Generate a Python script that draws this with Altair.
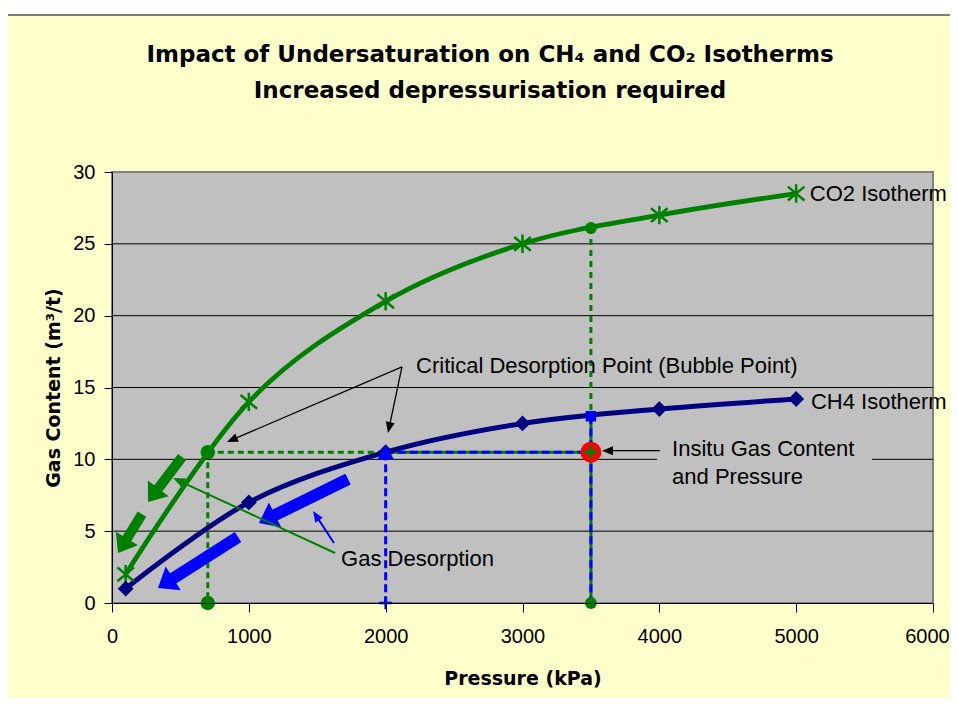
import math
import altair as alt
import pandas as pd

# ---------------- data ----------------
pressure = [100, 1000, 2000, 3000, 4000, 5000]
co2_content = [2, 14, 21, 25, 27, 28.5]
ch4_content = [1, 7, 10.5, 12.5, 13.5, 14.2]

x_ticks = [0, 1000, 2000, 3000, 4000, 5000, 6000]
y_ticks = [0, 5, 10, 15, 20, 25, 30]
grid_levels = [5, 10, 15, 20, 25]

co2_bubble = [700, 10.5]
ch4_bubble = [2000, 10.5]
insitu_point = [3500, 10.5]
co2_at_insitu = [3500, 26.1]
ch4_at_insitu = [3500, 13.0]

title_lines = ["Impact of Undersaturation on CH\u2084 and CO\u2082 Isotherms",
               "Increased depressurisation required"]

label_text = ["CO2 Isotherm", "CH4 Isotherm", "Critical Desorption Point (Bubble Point)",
              "Insitu Gas Content", "and Pressure", "Gas Desorption"]
label_x = [5100, 5108, 2222, 4093, 4093, 1674]
label_y = [28.5, 14.0, 16.5, 10.72, 8.77, 3.06]

# label background box (hides gridline behind the in-situ label)
label_box = [[3983, 9.5, 5554, 10.3]]

# guide lines [x1, y1, x2, y2]
green_dashed = [[700, 10.5, 2000, 10.5], [700, 10.5, 700, 0]]
green_dotted = [[3500, 26.1, 3500, 13.0]]
green_under = [[2000, 10.5, 3500, 10.5], [3500, 13.0, 3500, 0]]
blue_dashed = [[2000, 10.5, 3500, 10.5], [3500, 13.0, 3500, 0], [2000, 10.5, 2000, 0]]

# arrows [x_from, y_from, x_tip, y_tip]
green_arrows = [[512, 10.16, 263, 7.03], [219, 6.19, 44, 3.48]]
blue_arrows = [[1725, 8.63, 1074, 5.57], [921, 4.59, 336, 1.04]]
black_arrows = [[2119, 16.43, 840, 11.21], [2119, 16.43, 2017, 11.83], [4005, 10.6, 3581, 10.6]]
blue_pointer = [[1622, 4.18, 1469, 6.40]]
green_pointer = [[1630, 3.48, 446, 8.70]]

# ---------------- layout ----------------
W, H = 821, 431
XMAX, YMAX = 6000, 30
sx, sy = W / XMAX, H / YMAX

GREEN = "#008000"
NAVY = "#000080"
BLUE = "#0000FF"
RED = "#FF0000"
GRAY = "#C0C0C0"
YELLOW = "#FFFFCC"

xs = alt.Scale(domain=[0, XMAX], nice=False, zero=False)
ys = alt.Scale(domain=[0, YMAX], nice=False, zero=False)

xax = alt.Axis(values=x_ticks, format="d", title="Pressure (kPa)", grid=False,
               domainColor="black", domainWidth=1, tickColor="black", tickSize=9,
               labelFont="Liberation Sans", labelFontSize=20, labelColor="black",
               labelPadding=14, labelFlush=False, labelOverlap=False,
               labelOffset={"condition": {"test": f"datum.value == {XMAX}", "value": -6},
                            "value": 0},
               titleFont="DejaVu Sans", titleFontWeight="bold", titleFontSize=19,
               titleColor="black", titlePadding=23, zindex=1)
yax = alt.Axis(values=y_ticks, format="d", title="Gas Content (m\u00b3/t)", grid=False,
               domainColor="black", domainWidth=1, tickColor="black", tickSize=8,
               labelFont="Liberation Sans", labelFontSize=20, labelColor="black",
               labelPadding=9, labelFlush=False, labelOverlap=False,
               titleFont="DejaVu Sans", titleFontWeight="bold", titleFontSize=19,
               titleColor="black", titlePadding=9, zindex=1)


def X(f="x"):
    return alt.X(f, type="quantitative", scale=xs, axis=xax)


def Y(f="y"):
    return alt.Y(f, type="quantitative", scale=ys, axis=yax)


def seg_df(rows):
    return pd.DataFrame(rows, columns=["x", "y", "x2", "y2"])


def rule_layer(rows, color, width, dash=None, cap="butt"):
    kw = dict(color=color, strokeWidth=width, strokeCap=cap)
    if dash:
        kw["strokeDash"] = dash
    return alt.Chart(seg_df(rows)).mark_rule(**kw).encode(
        x=X("x"), y=Y("y"), x2="x2", y2="y2")


def pt_layer(px, py, shape, size, color, filled=True, sw=1):
    df = pd.DataFrame({"x": px, "y": py})
    return alt.Chart(df).mark_point(shape=shape, size=size, filled=filled, color=color,
                                    strokeWidth=sw, opacity=1).encode(x=X("x"), y=Y("y"))


def arrow_layers(rows, color, width, head_len, half_w):
    shafts, heads = [], []
    for x1, y1, x2, y2 in rows:
        dxp = (x2 - x1) * sx
        dyp = -(y2 - y1) * sy
        d = math.hypot(dxp, dyp)
        ux, uy = dxp / d, dyp / d
        ang = math.degrees(math.atan2(ux, -uy)) % 360
        ex = x2 - ux * 0.6 * head_len / sx
        ey = y2 + uy * 0.6 * head_len / sy
        shafts.append([x1, y1, ex, ey])
        heads.append({"x": x2, "y": y2, "ang": ang})
    path = f"M0,0L{-half_w / head_len:.3f},1L{half_w / head_len:.3f},1Z"
    shaft = rule_layer(shafts, color, width)
    head = alt.Chart(pd.DataFrame(heads)).mark_point(
        shape=path, size=4 * head_len ** 2, filled=True, color=color, opacity=1,
        strokeWidth=0).encode(x=X("x"), y=Y("y"), angle=alt.Angle("ang:Q", scale=None))
    return [shaft, head]


one = pd.DataFrame({"k": [0]})

# background frame (yellow chart area with black border)
frame = alt.Chart(one).mark_rect(fill=YELLOW, stroke="black", strokeWidth=1).encode(
    x=alt.value(-107), x2=alt.value(W + 200), y=alt.value(-157), y2=alt.value(H + 300))

# plot area
plot_bg = alt.Chart(one).mark_rect(fill=GRAY, stroke="#808080", strokeWidth=2).encode(
    x=alt.value(0), x2=alt.value(W), y=alt.value(0), y2=alt.value(H))

grid = alt.Chart(pd.DataFrame({"y": grid_levels})).mark_rule(
    color="black", strokeWidth=1).encode(y=Y("y"), x=alt.value(0), x2=alt.value(W))

box = alt.Chart(seg_df(label_box)).mark_rect(fill=GRAY, strokeWidth=0).encode(
    x=X("x"), y=Y("y"), x2="x2", y2="y2")

guides = [
    rule_layer(green_dashed, GREEN, 3, [6, 4]),
    rule_layer(green_dotted, GREEN, 3, [6, 5]),
    rule_layer(green_under, GREEN, 3),
    rule_layer(blue_dashed, BLUE, 3, [8, 4]),
]

co2_df = pd.DataFrame({"x": pressure, "y": co2_content})
ch4_df = pd.DataFrame({"x": pressure, "y": ch4_content})

co2_line = alt.Chart(co2_df).mark_line(color=GREEN, strokeWidth=4.8,
                                       interpolate="cardinal", tension=0).encode(x=X("x"), y=Y("y"))
ch4_line = alt.Chart(ch4_df).mark_line(color=NAVY, strokeWidth=5,
                                       interpolate="cardinal", tension=0).encode(x=X("x"), y=Y("y"))

STAR = "M0,-1L0,1M-0.9,-0.75L0.9,0.75M-0.9,0.75L0.9,-0.75"
PLUS = "M-1,0L1,0M0,-1L0,1"

markers = [
    pt_layer(pressure, co2_content, STAR, 340, GREEN, filled=False, sw=2.5),
    pt_layer(pressure, ch4_content, "diamond", 250, NAVY),
    pt_layer([co2_bubble[0], co2_bubble[0]], [co2_bubble[1], 0], "circle", 210, GREEN),
    pt_layer([co2_at_insitu[0], insitu_point[0]], [co2_at_insitu[1], 0], "circle", 140, GREEN),
    pt_layer([ch4_bubble[0]], [ch4_bubble[1]], "triangle-up", 280, BLUE),
    pt_layer([ch4_bubble[0]], [0], PLUS, 160, BLUE, filled=False, sw=2.5),
    pt_layer([ch4_at_insitu[0]], [ch4_at_insitu[1]], "square", 110, BLUE),
    pt_layer([insitu_point[0]], [insitu_point[1]], "circle", 440, RED),
    pt_layer([insitu_point[0]], [insitu_point[1]], PLUS, 190, GREEN, filled=False, sw=3),
]

arrows = []
arrows += arrow_layers(green_arrows, GREEN, 10, 17, 13)
arrows += arrow_layers(blue_arrows, BLUE, 12, 18, 14)
arrows += arrow_layers(black_arrows, "black", 1.3, 11, 4.5)
arrows += arrow_layers(blue_pointer, BLUE, 2, 11, 4.5)
arrows += arrow_layers(green_pointer, GREEN, 2, 12, 5)

labels = alt.Chart(pd.DataFrame({"x": label_x, "y": label_y, "t": label_text})).mark_text(
    font="Liberation Sans", fontSize=22, color="black", align="left", baseline="middle"
).encode(x=X("x"), y=Y("y"), text="t:N")

title1 = alt.Chart(one).mark_text(text=title_lines[0], font="DejaVu Sans", fontWeight="bold",
                                  fontSize=23, color="black", align="center",
                                  baseline="alphabetic").encode(x=alt.value(378), y=alt.value(-110))
title2 = alt.Chart(one).mark_text(text=title_lines[1], font="DejaVu Sans", fontWeight="bold",
                                  fontSize=23, color="black", align="center",
                                  baseline="alphabetic").encode(x=alt.value(378), y=alt.value(-74))

chart = alt.layer(
    frame, plot_bg, grid, box, *guides, co2_line, ch4_line, *markers, *arrows, labels,
    title1, title2
).properties(
    width=W, height=H,
    autosize=alt.AutoSizeParams(type="none"),
    padding={"left": 104, "top": 164, "right": 17, "bottom": 95},
    background="white",
).configure_view(stroke=None, fill=None)

chart.save("out.html", embed_options={"renderer": "svg", "actions": False})
